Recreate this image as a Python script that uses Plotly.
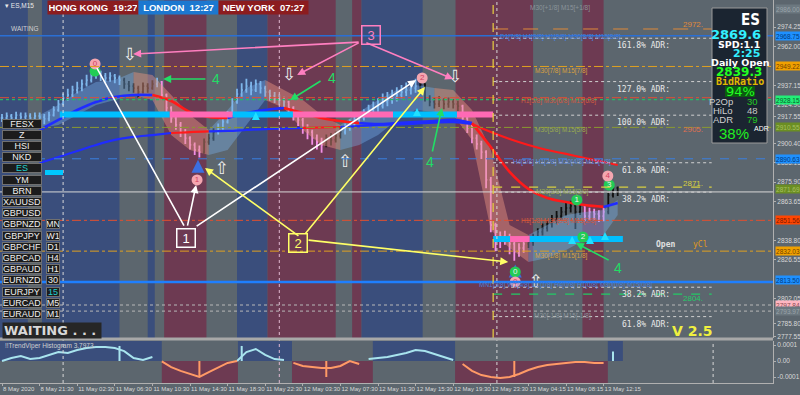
import plotly.graph_objects as go

# ---------------- data ----------------
closes = [2916.5,2917.8,2916.5,2918.4,2917.1,2917.8,2916.5,2917.8,2917.1,2915.9,
 2918.4,2921.6,2925.4,2929.2,2931.1,2934.3,2935.5,2938.1,2940.6,2943.2,
 2945.7,2943.2,2941.9,2943.2,2941.9,2940.6,2938.1,2936.8,2935.5,2933.0,
 2936.8,2935.5,2938.1,2939.4,2931.1,2922.9,2916.5,2912.1,2907.6,2903.8,
 2899.4,2896.2,2894.9,2901.3,2903.8,2907.6,2910.2,2914.0,2918.4,2926.7,
 2931.7,2934.3,2936.8,2934.3,2938.1,2935.5,2933.0,2930.5,2929.2,2927.9,
 2926.7,2922.9,2918.4,2915.3,2910.2,2907.6,2903.8,2901.3,2899.4,2903.8,
 2902.6,2905.1,2907.6,2910.2,2912.7,2915.3,2916.5,2919.1,2921.6,2922.9,
 2924.1,2926.7,2927.9,2929.2,2931.1,2933.0,2934.3,2935.5,2936.8,2938.1,
 2929.2,2926.7,2925.4,2927.9,2925.4,2926.7,2925.4,2924.1,2916.5,2910.2,
 2903.8,2900.0,2894.9,2877.2,2848.6,2839.1,2841.6,2840.4,2836.6,2831.5,
 2834.0,2836.6,2837.8,2840.4,2844.2,2846.7,2849.3,2851.8,2854.3,2856.9,
 2859.4,2860.7,2856.9,2860.7,2854.3,2856.9,2855.6,2854.3,2856.9,2867.6,
 2872.1,2869.6]
highs = [2919,2920,2919,2920.5,2920,2920,2919.5,2920,2920,2919,
 2920.5,2924,2928,2932,2935,2937,2939.5,2941,2944,2946,
 2948.5,2946.5,2945,2945.5,2944.5,2943.5,2942,2940,2938.5,2937,
 2939,2938.5,2940.5,2942,2940,2932,2924,2918,2914,2909.5,
 2905,2901,2899,2903.5,2906.5,2910,2913,2917,2921,2929,
 2935,2938.5,2941.5,2939.5,2941,2940,2937,2934.5,2933,2931.5,
 2930,2927.5,2924,2920,2916.5,2912.5,2909,2906,2904,2906,
 2907,2908,2910.5,2913,2915.5,2918,2919.5,2922,2925,2927,
 2929,2932,2933,2934.5,2936,2937.5,2939,2940,2941.5,2942.5,
 2938.5,2931,2929.5,2930.5,2929,2929.5,2928.5,2927.5,2925,2918,
 2912,2906,2902,2896,2879,2850,2844.5,2845,2843,2839,
 2837,2839.5,2841,2843,2846.5,2849.5,2852,2855,2857.5,2860,
 2862.5,2864,2862,2863.5,2861.5,2859.5,2859,2858,2859.5,2870,
 2875,2873]
lows = [2914,2915,2914.5,2915.5,2915,2915.5,2914.5,2915.5,2914,2912.5,
 2914.5,2917.5,2920.5,2924.5,2927.5,2929.5,2932,2933.5,2936.5,2939,
 2941.5,2940,2939,2939.5,2938.5,2937.5,2935,2933.5,2932.5,2929.5,
 2932,2932.5,2934.5,2936,2929,2920.5,2913.5,2909,2904.5,2900,
 2896.5,2893,2891.5,2894,2899.5,2902,2906,2909,2913,2917.5,
 2925.5,2930,2932.5,2931,2933,2932,2930,2927.5,2926,2925,
 2923.5,2919.5,2915,2911.5,2906.5,2903,2899.5,2896.5,2894.5,2898,
 2899,2901,2903.5,2906,2908.5,2911,2913,2915,2917.5,2919.5,
 2920.5,2922.5,2924,2925.5,2927,2929,2930.5,2931.5,2932.5,2934,
 2927,2924,2922.5,2923.5,2922,2923,2922.5,2921,2914,2907,
 2900.5,2896.5,2890.5,2872,2844,2832,2834,2836,2830,2826,
 2828.5,2831,2834,2835.5,2838.5,2842,2844.5,2847,2849.5,2852,
 2854.5,2856.5,2846,2855,2851,2851.5,2852,2850.5,2851,2855.5,
 2866,2867]
bar_state = list("bbbbbbbbbbbbbbbbbbbbbbbbbb" "kkkkkkk" "b" "ppppppppp" "kkk"
                 "bbbbbbbbbbbbbbb" "pppppppp" "kkkk" "bbbbbbbbbbbbbbbb"
                 "kkkkkkkkk" "pppppppppppppp" "kkkkkkkkkkk" "k" "ppppp" "kkk")
state_colour = {"b": "#7eb6ea", "p": "#f28ee6", "k": "#111111"}

tick_bars = [0, 8, 16, 24, 32, 40, 48, 56, 64, 72, 80, 88, 96, 104, 112, 120, 128]
tick_text = ["8 May 2020", "8 May 21:30", "11 May 02:30", "11 May 06:30", "11 May 10:30",
             "11 May 14:30", "11 May 18:30", "11 May 22:30", "12 May 03:30", "12 May 07:30",
             "12 May 11:30", "12 May 15:30", "12 May 19:30", "12 May 23:30", "13 May 04:15",
             "13 May 08:15", "13 May 12:15"]

price_ticks = [2974.25, 2962.00, 2937.15, 2924.90, 2917.55, 2900.40, 2888.15,
               2875.90, 2863.65, 2838.80, 2826.55, 2802.05, 2785.80, 2777.55]

# moving averages and cloud (sampled every 4 bars)
ma_bars = [8,12,16,20,24,28,32,36,40,44,48,52,56,60,64,68,72,76,80,84,88,92,96,100,104,108,112,116,120,124,128,131]
ma_fast = [2908.9,2915.3,2921.6,2926.7,2929.8,2931.1,2931.1,2927.3,2920.3,2917.1,2916.5,2919.7,
           2921.6,2922.9,2919.7,2916.5,2914.6,2913.3,2912.7,2913.3,2914.0,2914.6,2915.3,2913.3,
           2898.1,2882.3,2871.5,2865.8,2863.2,2861.3,2860.1,2862.6]
ma_fast_state = list("bbbbbb" "rrrr" "bbb" "rrrr" "bbbbbb" "rrrrrrr" "bb")
ma_slow = [2888.0,2891.8,2895.6,2899.4,2902.6,2904.5,2905.7,2907.0,2907.6,2908.0,2908.3,2908.9,
           2909.5,2909.8,2910.2,2910.5,2910.8,2911.4,2912.1,2912.4,2913.0,2913.6,2913.9,2912.7,
           2907.6,2903.2,2899.4,2896.2,2893.7,2891.1,2888.6,2886.7]
ma_slow_state = list("bbbbbbbrrbbbbbrrbbbbbbbrrrrrrrrr")
cloud_hi = [2918.4,2924.8,2933.0,2939.4,2940.6,2945.7,2943.8,2931.1,2918.4,2908.9,2921.6,2935.5,
            2940.6,2934.3,2927.9,2918.4,2912.1,2920.3,2927.9,2934.3,2937.4,2935.5,2934.3,2921.6,
            2896.2,2848.6,2842.3,2848.6,2855.0,2856.9,2858.1,2864.5]
cloud_lo = [2910.2,2912.1,2918.4,2924.8,2927.9,2931.1,2927.9,2905.7,2896.2,2893.0,2896.2,2912.1,
            2927.9,2922.9,2908.9,2899.4,2896.2,2899.4,2905.7,2915.3,2921.6,2920.3,2918.4,2902.6,
            2845.4,2834.0,2825.1,2827.7,2832.8,2839.1,2842.3,2855.0]
cloud_state = list("bbbbb" "ssss" "bbb" "ssss" "bbbbb" "sssss" "bbbbbb")

# histogram sub window (units of 1e-5), sampled every 2 bars
hist_bars = list(range(0, 132, 2))
hist_vals = [0,1.9,3.1,1.3,1.9,3.8,5.6,5.0,6.9,8.1,
             8.8,8.8,8.1,6.2,1.9,0.6,2.5,-0.3,-3.8,-6.2,
             -8.1,-10,-6.9,-3.8,-1.2,0,5.6,7.5,3.8,1.2,
             0.6,-1.2,-3.1,-3.8,-4.4,-4.4,-3.1,0,-1.9,1.2,
             1.9,2.5,3.8,5,6.9,6.2,4.4,2.5,0.6,-1.9,
             -6.2,-8.8,-10,-10.6,-10,-8.1,-5.6,-3.8,-2.5,-1.9,
             -1.2,-0.6,-0.6,-1.2,-1.2,2.5]
spike_bars = [25, 42, 51, 69, 109, 130]
spike_vals = [9.4, -10.0, 9.4, -10.0, -10.0, 6.0]

# session bands in the main window
band_start = [-0.5, 8.5, 31, 34.5, 50, 56.5, 74.5, 76.5, 96.5, 123.5]
band_end   = [5.5, 25, 32.5, 43.5, 56.5, 71, 76.5, 89.5, 113, 128]
band_kind  = ["B", "B", "B", "R", "B", "R", "R", "B", "R", "R"]
# histogram-sign bands in the sub window
sub_start = [-0.5, 34.0, 50.2, 61.7, 78.9, 96.4, 128.9]
sub_end   = [34.0, 50.2, 61.7, 78.9, 96.4, 128.9, 132.1]
sub_sign  = [1, -1, 1, -1, 1, -1, 1]

# thick support / resistance zone
zone_start  = [12.3, 35.7, 49.1, 61.9, 83.2, 96.8, 104.5, 108.1, 112.3]
zone_end    = [35.7, 49.1, 61.9, 83.2, 96.8, 104.5, 108.1, 112.3, 132.1]
zone_level  = [2918.8, 2918.8, 2918.8, 2918.8, 2918.8, 2918.8, 2839.7, 2839.7, 2839.7]
zone_colour = ["#00bfff", "#ff69b4", "#00bfff", "#ff69b4", "#00bfff", "#ff69b4", "#00bfff", "#ff69b4", "#00bfff"]

# horizontal levels: price, colour, dash, width, start bar (None = full), end bar
lv_price = [2968.75, 2973.0, 2949.22, 2929.4, 2928.15, 2910.55, 2890.63, 2872.7, 2869.6,
            2851.56, 2832.03, 2812.5, 2804.8, 2797.84, 2793.97]
lv_colour = ["#2a6fd4", "#e08a3a", "#e0a020", "#e05030", "#22bb66", "#8a9a30", "#3a7fe0",
             "#d8d040", "#d8d8d8", "#e05030", "#e0a020", "#1e7fff", "#22cc66", "#b8b8b8", "#b8b8b8"]
lv_dash = ["solid", "longdash", "dashdot", "dashdot", "dot", "dashdot", "dash", "dash", "solid",
           "dashdot", "dashdot", "solid", "dash", "dot", "dot"]
lv_width = [1.5, 1, 1, 1, 1.3, 1, 1, 1.3, 1, 1, 1, 2.5, 1.3, 1, 1]
lv_from = [None, 104.5, None, None, None, None, None, 104.5, None, None, None, None, 104.5, None, None]
lv_to = [None, 151, None, None, None, None, None, 151, None, None, None, None, 151, None, None]

# right-axis coloured price boxes
box_price = [2986.0, 2968.75, 2949.22, 2928.15, 2910.55, 2890.63, 2871.69, 2851.56, 2832.03, 2813.50, 2797.84, 2793.97]
box_bg = ["#6c7880", "#1e90ff", "#f0a000", "#22ee77", "#6b8e23", "#1e90ff", "#6b8e23", "#ff4500", "#f0a000", "#1e90ff", "#ffb6c1", "#6c7880"]
box_fg = ["#9aa4aa", "#003a80", "#704000", "#0a5a2a", "#a8c060", "#003a80", "#a8c060", "#7a1a00", "#704000", "#003a80", "#8a4a50", "#9aa4aa"]

# ADR levels
daily_open = 2839.3
adr_points = 79
adr_pct = [161.8, 127.0, 100.0, 61.8, 38.2, -38.2, -61.8]

# signals
sig_x = [19.8, 19.8, 41.5, 89.4, 109.2, 109.2, 122.3, 123.6, 129.2, 128.9]
sig_y = [2946.3, 2950.8, 2877.2, 2941.9, 2818.8, 2812.5, 2864.5, 2841.0, 2874.0, 2879.7]
sig_t = ["", "0", "1", "2", "0", "0", "1", "2", "3", "4"]
sig_c = ["#22cc55", "#f4a6b0", "#f4a6b0", "#f4a6b0", "#22cc55", "#f4a6b0", "#22cc55", "#22cc55", "#22cc55", "#f4a6b0"]
down_x = [27.2, 61.1, 96.4]; down_y = [2955.9, 2943.2, 2941.9]
up_x = [46.8, 73.0, 113.6]; up_y = [2883.5, 2888.0, 2811.8]
blue_up_x = [41.7, 109.2]; blue_up_y = [2890.0, 2823.5]
cyan_up_x = [54.0, 88.3, 121.3, 125.1, 128.3]; cyan_up_y = [2920.3, 2922.9, 2841.6, 2841.6, 2844.2]

# tutorial callouts: from (x,y) to (x,y), colour, arrowhead
call_from_x = [76.2, 76.2, 77.2, 38.9, 39.4, 41.1, 63.4, 64.3, 64.9, 43.6, 68.1, 91.5, 129.4]
call_from_y = [2964.7, 2964.7, 2964.7, 2847.3, 2847.3, 2847.3, 2841.0, 2842.3, 2839.1, 2941.3, 2940.6, 2894.3, 2825.8]
call_to_x = [27.9, 62.8, 96.0, 20.2, 41.3, 88.1, 43.2, 90.0, 107.7, 34.3, 61.3, 93.6, 122.1]
call_to_y = [2957.1, 2943.8, 2941.3, 2948.2, 2874.0, 2940.6, 2884.8, 2936.2, 2825.1, 2941.3, 2927.9, 2922.9, 2837.2]
call_colour = ["#ff7fc0"] * 3 + ["#ffffff"] * 3 + ["#ffff66"] * 3 + ["#22dd66"] * 4
call_head = [2, 2, 2, 0, 2, 2, 2, 2, 2, 2, 2, 2, 2]
label_x = [78.5, 39.15, 62.9]; label_y = [2969.5, 2840.4, 2836.9]
label_t = ["3", "1", "2"]; label_c = ["#ff7fc0", "#ffffff", "#ffff66"]
four_x = [45.5, 70.2, 91.1, 131.1]; four_y = [2941.3, 2941.9, 2888.6, 2821.3]

symbols = ["FESX", "Z", "HSI", "NKD", "ES", "YM", "BRN", "XAUUSD", "GBPUSD", "GBPNZD", "GBPJPY",
           "GBPCHF", "GBPCAD", "GBPAUD", "EURNZD", "EURJPY", "EURCAD", "EURAUD"]
timeframes = ["MN", "W1", "D1", "H4", "H1", "30", "15", "M5", "M1"]

# ---------------- layout helpers ----------------
PW, PH = 773.0, 383.0
def PX(x):
    return x / PW
def PY(y):
    return 1 - y / PH

BG = "#5c666e"
FONT = "Liberation Sans"
X_RANGE = [-0.426, -0.426 + PW / 4.7]
Y_RANGE = [2776.9, 2991.4]
SUB_RANGE = [-13.75, 12.5]

fig = go.Figure()

def runs(states):
    out, start = [], 0
    for i in range(1, len(states) + 1):
        if i == len(states) or states[i] != states[start]:
            out.append((start, min(i, len(states) - 1), states[start]))
            start = i
    return out

# cloud
cloud_fill = {"b": "rgba(120,180,240,0.38)", "s": "rgba(235,150,130,0.45)"}
for a, b, st in runs(cloud_state):
    xs = ma_bars[a:b + 1]
    fig.add_trace(go.Scatter(x=xs, y=cloud_lo[a:b + 1], mode="lines", line=dict(width=0),
                             hoverinfo="skip", showlegend=False, xaxis="x", yaxis="y"))
    fig.add_trace(go.Scatter(x=xs, y=cloud_hi[a:b + 1], mode="lines", line=dict(width=0),
                             fill="tonexty", fillcolor=cloud_fill[st],
                             hoverinfo="skip", showlegend=False, xaxis="x", yaxis="y"))

# candles grouped by colour state
for st, col in state_colour.items():
    idx = [i for i, s in enumerate(bar_state) if s == st]
    fig.add_trace(go.Ohlc(
        x=idx,
        open=[closes[i - 1] if i > 0 else closes[0] for i in idx],
        high=[highs[i] for i in idx], low=[lows[i] for i in idx],
        close=[closes[i] for i in idx],
        increasing_line_color=col, decreasing_line_color=col,
        line_width=1.8, tickwidth=0.25, hoverinfo="skip", showlegend=False,
        xaxis="x", yaxis="y"))

# moving averages split by colour runs
ma_colours = {"b": "#1f2cff", "r": "#ff1a1a"}
for series, states, width in [(ma_slow, ma_slow_state, 2.2), (ma_fast, ma_fast_state, 2.6)]:
    for a, b, st in runs(states):
        fig.add_trace(go.Scatter(x=ma_bars[a:b + 1], y=series[a:b + 1], mode="lines",
                                 line=dict(color=ma_colours[st], width=width, shape="spline"),
                                 hoverinfo="skip", showlegend=False, xaxis="x", yaxis="y"))

# zones
for s, e, lv, c in zip(zone_start, zone_end, zone_level, zone_colour):
    fig.add_trace(go.Scatter(x=[s, e], y=[lv, lv], mode="lines", line=dict(color=c, width=6),
                             hoverinfo="skip", showlegend=False, xaxis="x", yaxis="y"))

# arrows / signals
fig.add_trace(go.Scatter(x=down_x, y=down_y, mode="text", text=["⇩"] * len(down_x),
                         textfont=dict(color="#f0f0f0", size=17, family="DejaVu Sans"),
                         hoverinfo="skip", showlegend=False, xaxis="x", yaxis="y"))
fig.add_trace(go.Scatter(x=up_x, y=up_y, mode="text", text=["⇧"] * len(up_x),
                         textfont=dict(color="#f0f0f0", size=17, family="DejaVu Sans"),
                         hoverinfo="skip", showlegend=False, xaxis="x", yaxis="y"))
fig.add_trace(go.Scatter(x=blue_up_x, y=blue_up_y, mode="markers",
                         marker=dict(symbol="arrow-up", size=13, color="#3b6fe0"),
                         hoverinfo="skip", showlegend=False, xaxis="x", yaxis="y"))
fig.add_trace(go.Scatter(x=cyan_up_x, y=cyan_up_y, mode="markers",
                         marker=dict(symbol="arrow-up", size=8, color="#22e0ff"),
                         hoverinfo="skip", showlegend=False, xaxis="x", yaxis="y"))
fig.add_trace(go.Scatter(x=sig_x, y=sig_y, mode="markers+text", text=sig_t,
                         textposition="middle center",
                         textfont=dict(color=["#f0f0f0" if c == "#22cc55" else "#d04060" for c in sig_c], size=8, family=FONT),
                         marker=dict(symbol="circle", size=11, color=sig_c, line=dict(width=0)),
                         hoverinfo="skip", showlegend=False, xaxis="x", yaxis="y"))

# histogram sub window
pos = [v if v >= 0 else None for v in hist_vals]
neg = [v if v <= 0 else None for v in hist_vals]
fig.add_trace(go.Scatter(x=hist_bars, y=pos, mode="lines", line=dict(color="#a8e4ee", width=2),
                         hoverinfo="skip", showlegend=False, xaxis="x", yaxis="y2"))
fig.add_trace(go.Scatter(x=hist_bars, y=neg, mode="lines", line=dict(color="#ff9a66", width=2),
                         hoverinfo="skip", showlegend=False, xaxis="x", yaxis="y2"))
for b, v in zip(spike_bars, spike_vals):
    fig.add_trace(go.Scatter(x=[b, b], y=[0, v], mode="lines",
                             line=dict(color="#a8e4ee" if v > 0 else "#ff9a66", width=2),
                             hoverinfo="skip", showlegend=False, xaxis="x", yaxis="y2"))

shapes = []
for s, e, k in zip(band_start, band_end, band_kind):
    shapes.append(dict(type="rect", xref="x", yref="y domain", x0=s, x1=e, y0=0, y1=1,
                       fillcolor="#3a4e7c" if k == "B" else "#6d3a52", line=dict(width=0), layer="below"))
for s, e, sg in zip(sub_start, sub_end, sub_sign):
    shapes.append(dict(type="rect", xref="x", yref="y2", x0=s, x1=e,
                       y0=0 if sg > 0 else SUB_RANGE[0], y1=SUB_RANGE[1] if sg > 0 else 0,
                       fillcolor="#3a4e7c" if sg > 0 else "#6d3a52", line=dict(width=0), layer="below"))
for p, c, d, w, f, t in zip(lv_price, lv_colour, lv_dash, lv_width, lv_from, lv_to):
    if f is None:
        shapes.append(dict(type="line", xref="x domain", yref="y", x0=0, x1=1, y0=p, y1=p,
                           line=dict(color=c, width=w, dash=d)))
    else:
        shapes.append(dict(type="line", xref="x", yref="y", x0=f, x1=t, y0=p, y1=p,
                           line=dict(color=c, width=w, dash=d)))
for pct in adr_pct:
    lvl = daily_open + pct / 100.0 * adr_points
    shapes.append(dict(type="line", xref="x", yref="y", x0=104.5, x1=151, y0=lvl, y1=lvl,
                       line=dict(color="#d0d0d0", width=1, dash="dot")))
shapes.append(dict(type="line", xref="x", yref="paper", x0=13, x1=13, y0=0, y1=1, line=dict(color="#d8d8d8", width=1, dash="dot")))
shapes.append(dict(type="line", xref="x", yref="paper", x0=59, x1=59, y0=0, y1=1, line=dict(color="#e0b8d0", width=1, dash="dot")))
shapes.append(dict(type="line", xref="x", yref="y domain", x0=104.5, x1=104.5, y0=0, y1=1, line=dict(color="#e8d040", width=1.2, dash="dash")))
shapes.append(dict(type="line", xref="x", yref="paper", x0=105.3, x1=105.3, y0=0, y1=1, line=dict(color="#d8d8d8", width=1, dash="dot")))
shapes.append(dict(type="line", xref="x", yref="y2 domain", x0=151.3, x1=151.3, y0=0, y1=1, line=dict(color="#d8d8d8", width=1, dash="dot")))
shapes.append(dict(type="line", xref="paper", yref="paper", x0=0, x1=1, y0=PY(339), y1=PY(339), line=dict(color="#a8a8a8", width=3)))
shapes.append(dict(type="rect", xref="paper", yref="paper", x0=PX(712), x1=PX(767), y0=PY(143), y1=PY(8),
                   fillcolor="#1b2531", line=dict(color="#9a9a9a", width=1)))
shapes.append(dict(type="rect", xref="paper", yref="paper", x0=PX(725), x1=PX(755), y0=PY(97), y1=PY(86),
                   fillcolor="#0c5a10", line=dict(width=0)))
shapes.append(dict(type="rect", xref="paper", yref="paper", x0=PX(45), x1=PX(63), y0=PY(175), y1=PY(170),
                   fillcolor="#00c8ff", line=dict(width=0)))

ann = []
def txt(x, y, text, size=8, color="#e0e0e0", xanchor="center", bold=False, family=FONT, **kw):
    if bold:
        text = "<b>" + text + "</b>"
    d = dict(xref="paper", yref="paper", x=PX(x), y=PY(y), text=text, showarrow=False,
             xanchor=xanchor, yanchor="middle", font=dict(size=size, color=color, family=family))
    d.update(kw)
    ann.append(d)

for fx, fy, tx, ty, c, h in zip(call_from_x, call_from_y, call_to_x, call_to_y, call_colour, call_head):
    ann.append(dict(x=tx, y=ty, ax=fx, ay=fy, xref="x", yref="y", axref="x", ayref="y", text="",
                    showarrow=True, arrowhead=h, arrowsize=1, arrowwidth=1.6, arrowcolor=c))
for x, y, t, c in zip(label_x, label_y, label_t, label_c):
    ann.append(dict(x=x, y=y, xref="x", yref="y", text=t, showarrow=False, width=15, height=15,
                    bordercolor=c, borderwidth=1.5, borderpad=1,
                    font=dict(size=13, color=c, family=FONT)))
for x, y in zip(four_x, four_y):
    ann.append(dict(x=x, y=y, xref="x", yref="y", text="4", showarrow=False,
                    font=dict(size=14, color="#22dd66", family=FONT)))

for pct in adr_pct:
    lvl = daily_open + pct / 100.0 * adr_points
    ann.append(dict(x=PX(672), xref="paper", y=lvl, yref="y", yanchor="top", yshift=-1,
                    text="%.1f%% ADR:" % abs(pct), showarrow=False,
                    font=dict(size=8, color="#e8e8e8", family="DejaVu Sans Mono")))

txt(705, 25, "2972.", 8, "#e08a3a", xanchor="right")
txt(705, 130, "2905.", 8, "#e07050", xanchor="right")
txt(705, 184, "2871.", 8, "#d8d040", xanchor="right")
txt(705, 298, "2804.", 8, "#22cc66", xanchor="right")
txt(665, 244, "Open", 8, "#e0e0e0", bold=True, family="DejaVu Sans Mono")
txt(700, 244, "yCl", 8, "#e09a20", family="DejaVu Sans Mono")

mm = [(560, 8, "M30[+1/8] M15[+1/8]", "#8a949a"), (560, 37, "D1[7/8] H4[8/8] H1[8/8] M30[8/8] M15[8/8]", "#4a7fd8"),
      (561, 71, "M30[7/8] M15[7/8]", "#d8a040"), (558, 101, "H1[5/8] M30[6/8] M15[6/8]", "#d05a40"),
      (561, 130, "M30[5/8] M15[5/8]", "#9aaa50"), (562, 162, "H4[5/8] H1[2/8] M30[4/8] M15[4/8]", "#5a8ae0"),
      (562, 192, "M30[3/8] M15[3/8]", "#9aaa50"), (558, 221, "H1[1/8] M30[2/8] M15[2/8]", "#d05a40"),
      (561, 256, "M30[1/8] M15[1/8]", "#d8a040"), (565, 285, "MN1[3/8] W1[4/8] D1[1/8] H4[0/8] H1[0/8] M30[0/8] M15[0/8]", "#4a7fd8"),
      (562, 316, "M30[-1/8] M15[-1/8]", "#8a949a")]
for x, y, t, c in mm:
    txt(x, y, t, 6.5, c)

for p, bgc, fgc in zip(box_price, box_bg, box_fg):
    ann.append(dict(xref="paper", x=1, xanchor="left", xshift=2, yref="y", y=p, text=("%.2f" % p),
                    showarrow=False, bgcolor=bgc, width=24, height=8, borderpad=0,
                    font=dict(size=6.5, color=fgc, family=FONT)))

txt(47, 8, "HONG KONG  19:27", 9.5, "#ffffff", xanchor="left", bold=True, bgcolor="#8c1c1f", width=88, height=11, align="center")
txt(138, 8, "LONDON  12:27", 9.5, "#ffffff", xanchor="left", bold=True, bgcolor="#1c78d0", width=77, height=11, align="center")
txt(218, 8, "NEW YORK  07:27", 9.5, "#ffffff", xanchor="left", bold=True, bgcolor="#8c1c1f", width=87, height=11, align="center")
txt(3, 6, "▾ ES,M15", 6.5, "#e8e8e8", xanchor="left")
txt(9, 28, "WAITING", 6.5, "#d0d0d0", xanchor="left")

for i, s in enumerate(symbols):
    y = 123.5 + i * 11.2
    txt(2, y, s, 9, "#20d0d0" if s == "ES" else "#f0f0f0", xanchor="left", bgcolor="#1c1c1c",
        bordercolor="#707070", borderwidth=1, width=38, height=8, borderpad=0, align="center")
for i, t in enumerate(timeframes):
    y = 123.5 + (9 + i) * 11.2
    txt(46, y, t, 9, "#20d0d0" if t == "15" else "#f0f0f0", xanchor="left", bgcolor="#1c1c1c",
        bordercolor="#707070", borderwidth=1, width=12, height=8, borderpad=0, align="center")
txt(2, 330, "WAITING . . .", 13, "#d8d8d8", xanchor="left", bold=True, bgcolor="#262626", width=96, height=13, align="left", family="DejaVu Sans")
txt(692, 331, "V 2.5", 14, "#f0f040", bold=True, family="DejaVu Sans")
txt(3, 346, "!!TrendViper Histogram 3.7973", 6.5, "#d0d0d0", xanchor="left")

txt(762, 20, "ES", 15, "#ffffff", xanchor="right", bold=True, family="DejaVu Sans Condensed")
txt(763, 34, "2869.6", 13, "#33f0ff", xanchor="right", bold=True, family="DejaVu Sans")
txt(762, 44, "SPD:1.1", 9.5, "#ffffff", xanchor="right", bold=True, family="DejaVu Sans")
txt(762, 53, "2:25", 11, "#33f0ff", xanchor="right", bold=True, family="DejaVu Sans")
txt(740, 62.5, "Daily Open", 9.5, "#ffffff", bold=True, family="DejaVu Sans")
txt(739, 72, "2839.3", 12, "#22ff22", bold=True, family="DejaVu Sans")
txt(740, 81.5, "BidRatio", 10, "#e0b800", bold=True, family="DejaVu Sans Mono")
txt(740, 91.5, "94%", 13, "#22ff22", family="DejaVu Sans")
for y, lab, val, vc in [(101, "P2Op", "30", "#22cc22"), (110.5, "HiLo", "48", "#c8c8c8"), (119.5, "ADR", "79", "#22cc22")]:
    txt(735, y, lab, 9.5, "#d0d0d0", xanchor="right", family=FONT)
    txt(760, y, val, 9.5, vc, xanchor="right", family=FONT)
txt(751, 133, "38%", 15, "#22ee22", xanchor="right", family=FONT)
txt(752, 128, "ADR", 7, "#ffffff", xanchor="left", family=FONT)

fig.update_layout(
    width=800, height=395, margin=dict(l=0, r=27, t=0, b=12, autoexpand=False),
    paper_bgcolor=BG, plot_bgcolor=BG, showlegend=False,
    shapes=shapes, annotations=ann, dragmode=False,
    xaxis=dict(range=X_RANGE, anchor="y2", showgrid=False, zeroline=False,
               tickvals=tick_bars, ticktext=tick_text, ticklabelposition="outside right",
               tickangle=0, tickfont=dict(size=6, color="#d8d8d8", family=FONT), ticks="outside", ticklen=2,
               tickcolor="#b0b0b0", showline=True, linecolor="#b0b0b0", rangeslider=dict(visible=False)),
    yaxis=dict(domain=[1 - 338 / PH, 1], range=Y_RANGE, side="right", anchor="x", showgrid=False,
               zeroline=False, tickvals=price_ticks, ticktext=["%.2f" % v for v in price_ticks],
               tickfont=dict(size=6.5, color="#d8d8d8", family=FONT), ticks="outside", ticklen=2,
               tickcolor="#b0b0b0", showline=True, linecolor="#b0b0b0"),
    yaxis2=dict(domain=[0, 1 - 341 / PH], range=SUB_RANGE, side="right", anchor="x", showgrid=False,
                zeroline=False, tickvals=[10, 0, -10], ticktext=["0.0001", "0.00", "-0.0001"],
                tickfont=dict(size=6.5, color="#d8d8d8", family=FONT), ticks="outside", ticklen=2,
                tickcolor="#b0b0b0", showline=True, linecolor="#b0b0b0"),
    font=dict(family=FONT),
)

fig.write_html("out.html")
